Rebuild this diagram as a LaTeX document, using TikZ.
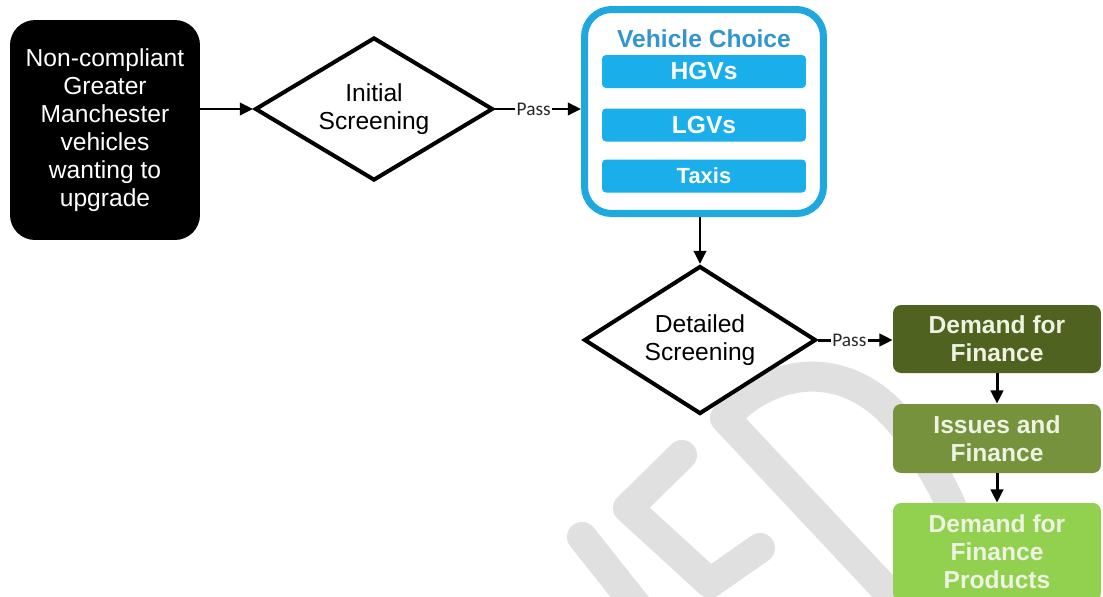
\documentclass[tikz,border=0pt]{standalone}
\usepackage{fontspec}
\setmainfont{Liberation Sans}
\newfontfamily\passfont{Carlito}
\usetikzlibrary{shapes.geometric,arrows.meta}
\definecolor{vcblue}{RGB}{30,168,224}
\definecolor{vcbar}{RGB}{26,174,234}
\definecolor{vctitle}{RGB}{50,150,205}
\definecolor{gA}{RGB}{79,98,32}
\definecolor{gB}{RGB}{118,146,60}
\definecolor{gC}{RGB}{146,208,80}
\definecolor{gtext}{RGB}{238,243,225}
\definecolor{wm}{RGB}{224,224,224}
\begin{document}
\begin{tikzpicture}[x=0.02cm,y=-0.02cm,
  txt/.style={font=\fontsize{14}{16}\selectfont, align=center},
  btxt/.style={font=\bfseries\fontsize{14}{16}\selectfont, align=center},
  startbox/.style={txt, fill=black, text=white, rounded corners=0.5cm,
    minimum width=3.8cm, minimum height=4.4cm, inner sep=0pt},
  decision/.style={txt, diamond, draw=black, line width=2.3pt, fill=white,
    inner sep=0pt, shape aspect=1.6},
  choicebox/.style={draw=vcblue, line width=4pt, rounded corners=0.54cm,
    minimum width=4.78cm, minimum height=4.08cm, inner sep=0pt},
  bar/.style={btxt, fill=vcbar, text=white, rounded corners=0.08cm,
    minimum width=4.08cm, minimum height=0.66cm, inner sep=0pt},
  finbox/.style={btxt, text=gtext, rounded corners=0.16cm,
    minimum width=4.16cm, inner sep=0pt},
  arr/.style={line width=1.7pt, -{Triangle[length=7.5pt,width=7pt]}},
  pass/.style={font=\passfont\fontsize{11}{12}\selectfont, fill=white,
    inner sep=1pt, text=black!85},
  wmark/.style={draw=wm, line width=0.6cm, line cap=round, line join=round}
]
\useasboundingbox (0,0) rectangle (1103,596);
\clip (0,0) rectangle (1103,596);

% watermark
\draw[wmark] (905,610) -- (725,418)
  .. controls (770,368) and (852,352) .. (910,435)
  .. controls (950,490) and (970,545) .. (985,610);
\draw[wmark] (682,455) -- (628,508) -- (710,583) -- (760,548);
\draw[wmark] (582,537) -- (640,610);

% nodes
\node[startbox] (start) at (105,130)
  {Non-compliant\\Greater\\Manchester\\vehicles\\wanting to\\upgrade};
\node[decision, minimum width=4.76cm, minimum height=2.86cm] (d1) at (374,109)
  {Initial\\Screening};
\node[choicebox] (vc) at (704,111.5) {};
\node[btxt, text=vctitle] (vct) at (704,39) {Vehicle Choice};
\node[bar] (hgv) at (704,71.5) {HGVs};
\node[bar] (lgv) at (704,125) {LGVs};
\node[bar, font=\bfseries\fontsize{12.5}{14}\selectfont] (taxi) at (704,176) {Taxis};
\node[decision, minimum width=4.64cm, minimum height=2.96cm] (d2) at (700,340)
  {Detailed\\Screening};
\node[finbox, fill=gA, minimum height=1.36cm] (g1) at (997,339) {Demand for\\Finance};
\node[finbox, fill=gB, minimum height=1.38cm] (g2) at (997,438.5) {Issues and\\Finance};
\node[finbox, fill=gC, minimum height=1.96cm] (g3) at (997,552) {Demand for\\Finance\\Products};

% connectors
\draw[arr] (start.east |- d1.west) -- (d1.west);
\draw[arr] (d1.east) -- node[pass, pos=0.45] {Pass} (d1.east -| vc.west);
\draw[arr] (d2.north |- vc.south) -- (d2.north);
\draw[arr] (d2.east) -- node[pass, pos=0.42] {Pass} (d2.east -| g1.west);
\draw[arr] (g1.south) -- (g2.north);
\draw[arr] (g2.south) -- (g3.north);
\end{tikzpicture}
\end{document}
